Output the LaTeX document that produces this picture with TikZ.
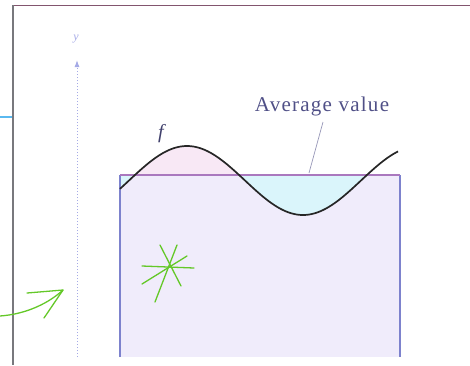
\documentclass[tikz,border=0pt]{standalone}
\usepackage{fontspec}
\usetikzlibrary{arrows.meta}
\setmainfont{Liberation Serif}
\newfontfamily\spacedserif[LetterSpace=6]{Liberation Serif}
\definecolor{lav}{RGB}{240,236,251}
\definecolor{cyanfill}{RGB}{218,245,251}
\definecolor{pinkfill}{RGB}{248,232,245}
\definecolor{edgeblue}{RGB}{125,130,205}
\definecolor{avgline}{RGB}{170,120,190}
\definecolor{axisblue}{RGB}{165,170,230}
\definecolor{textblue}{RGB}{80,80,135}
\definecolor{topline}{RGB}{130,85,110}
\definecolor{leftline}{RGB}{120,120,125}
\definecolor{markblue}{RGB}{90,185,240}
\definecolor{pengreen}{RGB}{100,200,40}
\tikzset{
  curvef/.style={line width=1.7pt, color=black!85},
  penstroke/.style={line width=1.3pt, color=pengreen, line cap=round, line join=round},
  labeltext/.style={inner sep=0pt, text=textblue},
}
\begin{document}
\begin{tikzpicture}[x=1pt,y=-1pt]
\useasboundingbox (0,0) rectangle (470,365);
% frame
\draw[topline, line width=1.5pt] (12,5.5) -- (470,5.5);
\draw[leftline, line width=1.2pt] (13,5) -- (13,365);
\draw[markblue, line width=2pt] (0,117) -- (12,117);
% filled rectangle
\fill[lav] (120,175) rectangle (400,357);
\begin{scope}
  \clip (120,175) rectangle (400,357);
  \fill[cyanfill] plot[domain=120:398, samples=120] (\x, {180.5-34.5*cos(1.55172*(\x-187))}) -- (400,175) -- (120,175) -- cycle;
\end{scope}
\begin{scope}
  \clip (120,100) rectangle (250,175);
  \fill[pinkfill] plot[domain=120:398, samples=120] (\x, {180.5-34.5*cos(1.55172*(\x-187))}) -- (400,175) -- (120,175) -- cycle;
\end{scope}
\draw[edgeblue, line width=1.3pt] (120,357) -- (120,175);
\draw[edgeblue, line width=1.3pt] (400,175) -- (400,357);
\draw[avgline, line width=1.2pt] (120,175) -- (400,175);
% axis
\coordinate (ybot) at (77,357);
\coordinate (ytop) at (77,60);
\draw[axisblue, line width=1pt, dotted, -{Latex[length=7pt,width=5pt]}] (ybot) -- (ytop);
\node[labeltext, text=axisblue, font=\itshape\fontsize{12}{14}\selectfont] (ylab) at (76,39) {y};
% curve
\draw[curvef] plot[domain=120:398, samples=150] (\x, {180.5-34.5*cos(1.55172*(\x-187))});
\node[labeltext, text=textblue!80!black, font=\itshape\fontsize{20}{22}\selectfont] (flab) at (161,134) {f};
\node[labeltext, font=\spacedserif\fontsize{21}{24}\selectfont] (avg) at (322,106) {Average value};
\coordinate (avgpt) at (309,173);
\draw[textblue!60, line width=0.7pt] (323,122) -- (avgpt);
% green pen marks
\coordinate (garrowtip) at (63,290);
\draw[penstroke] (0,316) .. controls (28,314) and (50,302) .. (garrowtip);
\draw[penstroke] (27,293) -- (garrowtip) -- (44,318);
\coordinate (star) at (168,268);
\draw[penstroke] (160,245) -- (181,286);
\draw[penstroke] (177,245) -- (155,302);
\draw[penstroke] (142,266) -- (194,268);
\draw[penstroke] (187,256) -- (142,284);
\end{tikzpicture}
\end{document}
